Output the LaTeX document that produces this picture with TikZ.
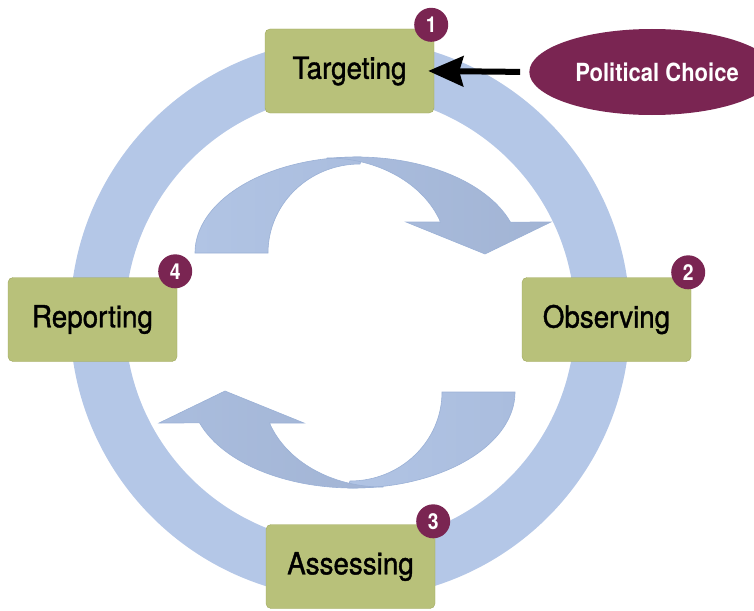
\documentclass[tikz,border=0pt]{standalone}
\usepackage{fontspec}
\setmainfont{TeX Gyre Heros}[FakeStretch = 0.88]
\newfontfamily\stagefont{TeX Gyre Heros}[FakeStretch = 0.91, FakeBold = 1.2]
\usetikzlibrary{shapes.geometric, arrows.meta}
\definecolor{ringblue}{HTML}{B4C7E7}
\definecolor{bandlight}{HTML}{B1C4E4}
\definecolor{bandmid}{HTML}{AABDDE}
\definecolor{banddark}{HTML}{A2B4D4}
\definecolor{bandline}{HTML}{9BB1D6}
\definecolor{boxgreen}{HTML}{B8C17A}
\definecolor{boxline}{HTML}{A0A85E}
\definecolor{plum}{HTML}{7A2552}
% one curved arrow of the cycle, drawn as two bands
\newcommand{\cyclebands}{%
\draw[band, left color = bandlight, right color = bandmid] (195,253)
  arc [start angle = 180, end angle = 88, x radius = 162pt, y radius = 96pt]
  -- (360,164)
  arc [start angle = 90, end angle = 180, x radius = 92pt, y radius = 89pt] -- cycle;
\draw[band, left color = bandmid, right color = banddark] (327,158.7)
  arc [start angle = 100.7, end angle = 18.8, x radius = 162pt, y radius = 96pt]
  -- (551,222) -- (485,254) -- (406,222) -- (440.5,222)
  arc [start angle = 19, end angle = 90, x radius = 120pt, y radius = 95pt] -- cycle;
}

\begin{document}
\begin{tikzpicture}[x = 1pt, y = -1pt,
  stagebox/.style = {draw = boxline, fill = boxgreen, rounded corners = 5pt,
    minimum width = 169pt, minimum height = 84pt, inner sep = 0pt,
    font = \stagefont\fontsize{30.5}{32}\selectfont},
  badge/.style = {circle, fill = plum, text = white, minimum size = 34pt,
    inner sep = 0pt, font = \fontsize{22}{24}\selectfont\bfseries},
  band/.style = {draw = bandline, line width = .6pt}]
\useasboundingbox (0,0) rectangle (754,610);
\draw[ringblue, line width = 55pt] (350,319) circle [radius = 252.5pt];
\begin{scope}
\cyclebands
\end{scope}
\begin{scope}[rotate around = {180:(355,322.5)}]
\cyclebands
\end{scope}
\node[stagebox] (targeting) at (349.5,71) {Targeting};
\node[stagebox] (observing) at (606.5,319.5) {Observing};
\node[stagebox] (assessing) at (350.5,566.5) {Assessing};
\node[stagebox] (reporting) at (92.5,319.5) {Reporting};
\node[badge] (one) at ([shift = {(-3,-4)}]targeting.north east) {1};
\node[badge] (two) at ([shift = {(-3,-5)}]observing.north east) {2};
\node[badge] (three) at ([shift = {(-2,-3)}]assessing.north east) {3};
\node[badge] (four) at ([shift = {(-2,-6)}]reporting.north east) {4};
\node[ellipse, fill = plum, text = white, minimum width = 200pt, minimum height = 86pt,
  inner sep = 0pt, font = \fontsize{25}{27}\selectfont\bfseries] (political) at (652,72)
  {\hspace{10pt}\raisebox{-2pt}{Political Choice}};
\draw[-{Stealth[length = 35pt, width = 30pt, inset = 4pt]}, line width = 6pt,
  shorten < = 9pt, shorten > = -6pt] (political.west) -- (targeting.east);
\end{tikzpicture}
\end{document}
